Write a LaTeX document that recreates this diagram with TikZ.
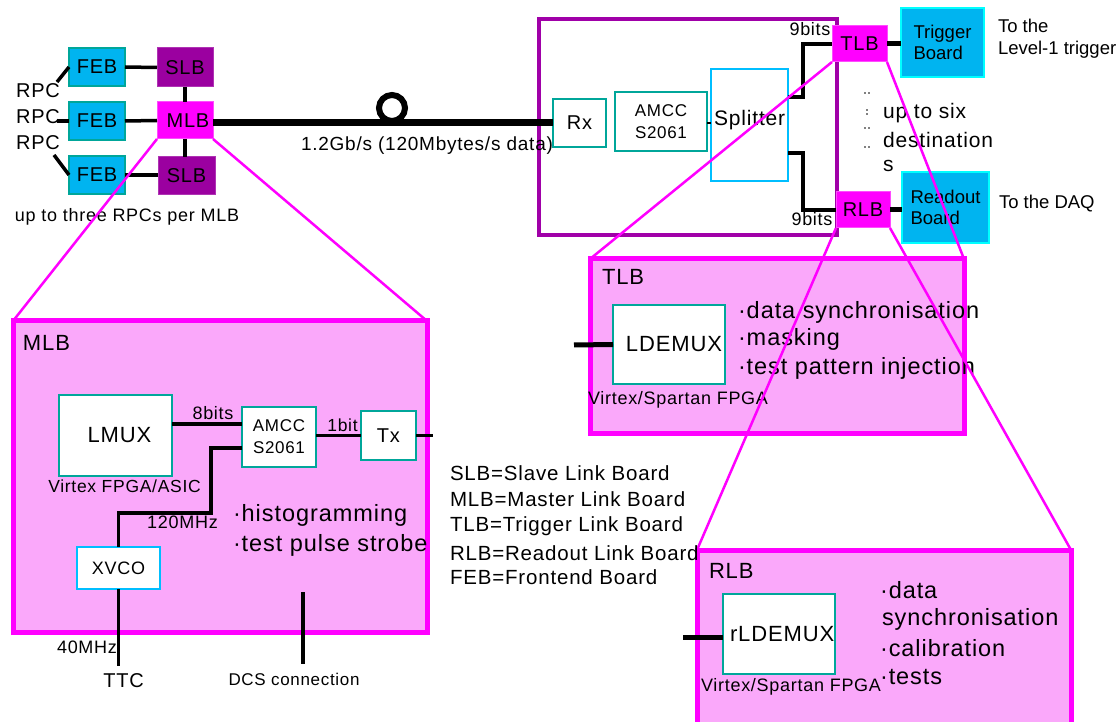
\documentclass[tikz,border=0pt]{standalone}
\usepackage{fontspec}
\setmainfont{Liberation Sans}
\newfontfamily\gf{Liberation Sans}[LetterSpace=4]
\newfontfamily\af{Liberation Sans}
\definecolor{febblue}{RGB}{0,180,240}
\definecolor{tealb}{RGB}{0,166,154}
\definecolor{skyb}{RGB}{0,190,255}
\definecolor{slbpur}{RGB}{155,0,160}
\definecolor{boxpur}{RGB}{160,0,168}
\definecolor{mag}{RGB}{255,0,255}
\definecolor{pinkf}{RGB}{250,168,250}
\definecolor{cyanb}{RGB}{0,255,255}
\newcommand\fsz[2]{\fontsize{#1}{#2}\selectfont}
\begin{document}
\begin{tikzpicture}[x=1pt,y=-1pt,
  every node/.style={inner sep=0pt, outer sep=0pt},
  sz/.style 2 args={minimum width=#1pt, minimum height=#2pt},
  lbl/.style={font=\gf\fsz{20}{24}},
  small/.style={font=\gf\fsz{18}{22}},
  bul/.style={font=\gf\fsz{23.5}{28}, anchor=west},
  arial/.style={font=\af\fsz{18.5}{21}},
  febbox/.style={draw=tealb, line width=2.5pt, fill=febblue, font=\gf\fsz{20}{24}},
  slbbox/.style={draw=slbpur!80!white, line width=1pt, fill=slbpur, font=\gf\fsz{20}{24}},
  mlbnode/.style={draw=mag!70!white, line width=1pt, fill=mag, font=\gf\fsz{20}{24}},
  tealbox/.style={draw=tealb, line width=2.5pt, fill=white},
  skybox/.style={draw=skyb, line width=2.5pt, fill=white},
  destbox/.style={draw=cyanb, line width=2.5pt, fill=febblue, font=\af\fsz{18.5}{21}, align=left},
  bigbox/.style={draw=mag, line width=5pt, fill=pinkf},
  wire/.style={line width=3.5pt},
  zoomline/.style={draw=mag, line width=2.5pt}
]
\useasboundingbox (0,0) rectangle (1120,722);

% ---------- front end ----------
\node[febbox, sz={56}{38}] (feb1) at (97,67) {FEB};
\node[febbox, sz={56}{38}] (feb2) at (97,121) {FEB};
\node[febbox, sz={56}{38}] (feb3) at (97,175) {FEB};
\node[slbbox, sz={56}{39}] (slb1) at (185,67.5) {SLB};
\node[mlbnode, sz={56}{37}] (mlb) at (185,120.5) {\hspace{6pt}MLB};
\node[slbbox, sz={57}{38}] (slb2) at (186.5,176) {SLB};
\node[lbl] (rpc1) at (38,91) {RPC};
\node[lbl] (rpc2) at (38,117) {RPC};
\node[lbl] (rpc3) at (38,143) {RPC};
\coordinate (r1) at (57,82);
\coordinate (r2) at (57,121);
\coordinate (r3) at (54,155);
\draw[wire] (r1) -- (feb1.west);
\draw[wire] (r2) -- (feb2.west);
\draw[wire] (r3) -- (feb3.west);
\draw[wire] (feb1.east) -- (slb1.west);
\draw[wire] (feb2.east) -- (mlb.west);
\draw[wire] (feb3.east) -- (feb3.east -| slb2.west);
\draw[wire] (slb1.south) -- (mlb.north);
\draw[wire] (mlb.south) -- (mlb.south |- slb2.north);
\node[font=\gf\fsz{18}{22}, anchor=west] (upto3) at (15,217) {up to three RPCs per MLB};

% ---------- receiver ----------
\node[draw=boxpur, line width=4.5pt, sz={298}{216}] (rxbox) at (688,127) {};
\node[tealbox, sz={53}{48}, font=\gf\fsz{20}{24}] (rx) at (579.5,123) {Rx};
\node[tealbox, sz={92}{59}, font=\gf\fsz{17}{22}, align=center] (amcc2) at (661,121.5) {AMCC\\S2061};
\node[skybox, sz={77}{112}] (split) at (749.5,125) {};
\node[font=\gf\fsz{21}{24}, anchor=west] (splittxt) at (714,120) {Splitter};
\draw[line width=7pt] (mlb.east |- rx.west) -- (rx.west);
\node[circle, draw, line width=6pt, minimum size=26pt] (loop) at (392,108) {};
\node[font=\gf\fsz{19}{22}, anchor=west] (rate) at (301,146) {1.2Gb/s (120Mbytes/s data)};
\draw[line width=2pt] (amcc2.east |- 0,123) -- (split.west |- 0,123);

\node[mlbnode, sz={55}{36}] (tlb) at (859.5,44) {TLB};
\node[mlbnode, sz={54}{36}] (rlb) at (863,210) {RLB};
\node[destbox, sz={83}{69}] (trig) at (942.5,42.5) {Trigger\\Board};
\node[destbox, sz={87}{71}] (read) at (945.5,207.5) {Readout\\Board};
\draw[line width=4.5pt] ([yshift=28pt]split.east) -- ++(15,0) |- (tlb.west);
\draw[line width=4.5pt] ([yshift=-28pt]split.east) -- ++(15,0) |- (rlb.west);
\node[small] (b9a) at (810,29) {9bits};
\node[small] (b9b) at (812,219) {9bits};
\draw[line width=5pt] (tlb.east) -- (tlb.east -| trig.west);
\draw[line width=5pt] (rlb.east) -- (rlb.east -| read.west);
\node[arial, anchor=west] (to1) at (998,26) {To the};
\node[arial, anchor=west] (to2) at (998,50) {Level-1 trigger};
\node[arial, anchor=west] (to3) at (999,204) {To the DAQ};
\foreach \yy in {93,128,147} {
  \fill (865,\yy) circle[radius=0.9pt];
  \fill (869,\yy) circle[radius=0.9pt];
}
\fill (867,110) circle[radius=0.9pt];
\fill (867,114) circle[radius=0.9pt];
\node[font=\gf\fsz{21}{24}, anchor=west] (six1) at (883,113) {up to six};
\node[font=\gf\fsz{21}{24}, anchor=west] (six2) at (883,140) {destination};
\node[font=\gf\fsz{21}{24}, anchor=west] (six3) at (883,166) {s};

% ---------- MLB detail ----------
\node[bigbox, sz={414}{311}] (mlbbox) at (220,476.5) {};
\node[font=\gf\fsz{22}{26}, anchor=west] (mlbt) at (23,343) {MLB};
\node[tealbox, sz={113}{81}, font=\gf\fsz{22}{26}] (lmux) at (115.5,435.5) {\hspace{8pt}LMUX};
\node[font=\gf\fsz{17.5}{21}] (virt1) at (124.5,486) {Virtex FPGA/ASIC};
\node[tealbox, sz={74}{60}, font=\gf\fsz{17}{22}, align=center] (amcc1) at (279,437) {AMCC\\S2061};
\node[tealbox, sz={55}{49}, font=\gf\fsz{20}{24}] (tx) at (388.5,435.5) {Tx};
\draw[line width=4.5pt] (lmux.east |- 0,424) -- (amcc1.west |- 0,424);
\node[small] (b8) at (213,413) {8bits};
\draw[line width=3pt] (amcc1.east |- tx.west) -- (tx.west);
\node[font=\gf\fsz{17.5}{21}] (b1) at (342.5,425) {1bit};
\coordinate (txo) at (433,435.5);
\draw[line width=3pt] (tx.east) -- (txo);
\node[skybox, sz={83}{42}, font=\gf\fsz{18}{22}] (xvco) at (118.5,568) {XVCO};
\draw[wire] (amcc1.west |- 0,448) -| (211,513) -| (xvco.north);
\node[small] (m120) at (182.5,522) {120MHz};
\node[bul] (h1) at (233,515) {·histogramming};
\node[bul] (h2) at (233,545) {·test pulse strobe};
\coordinate (ttcend) at (118.5,666);
\draw[wire] (xvco.south) -- (ttcend);
\node[small] (m40) at (87,647) {40MHz};
\node[font=\gf\fsz{20}{24}] (ttc) at (123.5,681) {TTC};
\coordinate (dcs1) at (303,592);
\coordinate (dcs2) at (303,664);
\draw[wire] (dcs1) -- (dcs2);
\node[font=\gf\fsz{17}{21}] (dcs) at (294,679) {DCS connection};

% ---------- TLB detail ----------
\node[bigbox, sz={374}{174}] (tlbbox) at (777,346) {};
\node[font=\gf\fsz{22}{26}, anchor=west] (tlbt) at (602,277) {TLB};
\node[tealbox, sz={112}{79}, font=\gf\fsz{22}{26}] (ldemux) at (669,344.5) {\hspace{10pt}LDEMUX};
\coordinate (tin) at (574,345);
\draw[line width=5pt] (tin) -- (ldemux.west);
\node[font=\gf\fsz{18}{22}, anchor=west] (virt2) at (588,400) {Virtex/Spartan FPGA};
\node[bul] (t1) at (738,312) {·data synchronisation};
\node[bul] (t2) at (738,339) {·masking};
\node[bul] (t3) at (738,368) {·test pattern injection};

% ---------- RLB detail ----------
\node[bigbox, sz={374}{190}] (rlbbox) at (884,645) {};
\node[font=\gf\fsz{22}{26}, anchor=west] (rlbt) at (709,571) {RLB};
\node[tealbox, sz={112}{80}] (rldemux) at (779,634) {};
\node[font=\gf\fsz{22}{26}, anchor=west] (rldtxt) at (730,634) {rLDEMUX};
\coordinate (rin) at (683,637);
\draw[line width=5pt] (rin) -- (rldemux.west |- rin);
\node[font=\gf\fsz{18}{22}, anchor=west] (virt3) at (701,687) {Virtex/Spartan FPGA};
\node[bul] (q1) at (880,590) {·data};
\node[bul] (q2) at (882,619) {synchronisation};
\node[bul] (q3) at (880,648) {·calibration};
\node[bul] (q4) at (880,677) {·tests};

% ---------- zoom lines ----------
\draw[zoomline] (mlb.south west) -- (mlbbox.north west);
\draw[zoomline] (mlb.south east) -- (mlbbox.north east);
\draw[zoomline] (tlb.south west) -- (tlbbox.north west);
\draw[zoomline] (tlb.south east) -- (tlbbox.north east);
\draw[zoomline] (rlb.south west) -- (rlbbox.north west);
\draw[zoomline] (rlb.south east) -- (rlbbox.north east);

% ---------- legend ----------
\node[font=\gf\fsz{20.5}{24}, anchor=west] (lg1) at (450,473) {SLB=Slave Link Board};
\node[font=\gf\fsz{20.5}{24}, anchor=west] (lg2) at (450,499) {MLB=Master Link Board};
\node[font=\gf\fsz{20.5}{24}, anchor=west] (lg3) at (450,526) {TLB=Trigger Link Board};
\node[font=\gf\fsz{20.5}{24}, anchor=west] (lg4) at (450,553) {RLB=Readout Link Board};
\node[font=\gf\fsz{20.5}{24}, anchor=west] (lg5) at (450,577) {FEB=Frontend Board};
\end{tikzpicture}
\end{document}
